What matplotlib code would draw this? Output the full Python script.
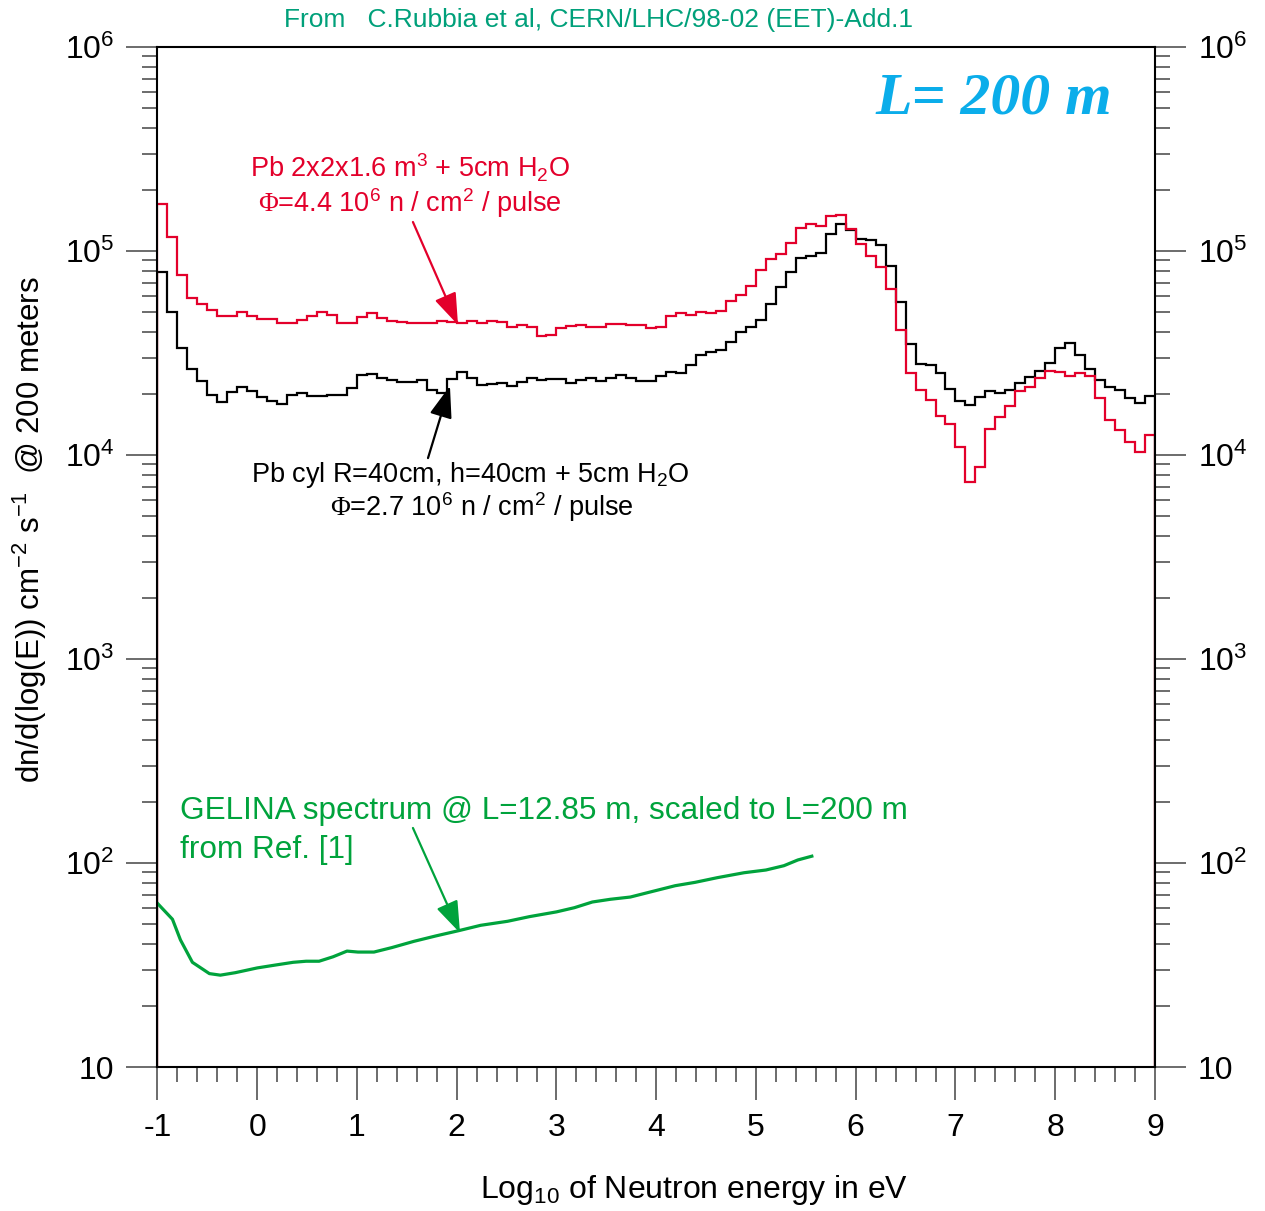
import numpy as np
import matplotlib.pyplot as plt
from matplotlib.ticker import MultipleLocator, FixedLocator, LogLocator, NullFormatter

plt.rcParams['font.family'] = ['Liberation Sans', 'DejaVu Sans']
plt.rcParams['mathtext.fontset'] = 'custom'
plt.rcParams['mathtext.rm'] = 'Liberation Sans'
plt.rcParams['mathtext.it'] = 'Liberation Sans:italic'
plt.rcParams['mathtext.sf'] = 'Liberation Serif'

RED = '#e3002b'
GREEN = '#00a33c'

# histogram bins: log10(E/eV) from -1 to 9, 0.1 decade wide
edges = np.linspace(-1, 9, 101)

# Pb 2x2x1.6 m3 target
lead_block = [170000, 117100, 76300, 58800, 55000, 51400, 48000, 48000, 50200, 48000,
              46400, 46400, 44400, 44400, 45900, 48000, 50200, 48600, 44400, 44400,
              47500, 49700, 46900, 45400, 44900, 44400, 44400, 44400, 45400, 44900,
              44400, 45400, 44400, 45400, 44900, 42200, 43600, 42600, 38300, 38800,
              41900, 43100, 43500, 42600, 42200, 43700, 43900, 43400, 43400, 41800,
              42300, 48000, 49500, 48400, 50200, 49900, 51000, 56900, 60600, 67000,
              80300, 91400, 96700, 109100, 128900, 135200, 132600, 148000, 150200, 128200,
              107900, 94500, 83200, 65100, 41200, 25200, 20800, 18600, 15500, 14200,
              11000, 7350, 8760, 13400, 15400, 17400, 20600, 21600, 23900, 25900,
              25500, 24500, 25200, 24400, 19100, 14800, 13300, 11600, 10300, 12600]

# Pb cylinder R=40cm h=40cm
lead_cyl = [79200, 50100, 33600, 26300, 23100, 19700, 18100, 20300, 21600, 20600,
            19300, 18300, 17700, 19700, 20200, 19500, 19500, 19700, 19700, 21200,
            24700, 25000, 23900, 23400, 22900, 22900, 23200, 20900, 20200, 23500,
            25500, 23800, 22000, 22200, 22500, 21800, 22700, 23800, 23400, 23600,
            23500, 22500, 23300, 23900, 23100, 23900, 24700, 23800, 23100, 23100,
            24300, 25400, 25300, 27700, 31000, 32000, 32600, 35900, 40200, 42400,
            45700, 54800, 66400, 78500, 92400, 94700, 98100, 120900, 135700, 126700,
            114500, 113200, 107000, 84400, 56400, 35000, 27800, 27600, 25300, 21000,
            18400, 17600, 19300, 20600, 20200, 20800, 22500, 24200, 25800, 28200,
            33300, 35300, 30900, 26300, 23300, 21500, 20800, 19000, 17900, 19500]

# GELINA spectrum scaled to 200 m
gelina_x = [-1.0, -0.85, -0.77, -0.65, -0.48, -0.37, -0.22, 0.0, 0.18, 0.36, 0.49, 0.62,
            0.76, 0.90, 1.01, 1.17, 1.35, 1.57, 1.79, 2.02, 2.24, 2.51, 2.73, 3.0,
            3.18, 3.36, 3.54, 3.74, 3.94, 4.19, 4.39, 4.61, 4.88, 5.10, 5.28, 5.42, 5.56]
gelina_y = [63.4, 53, 42, 32.6, 28.7, 28.2, 29, 30.6, 31.6, 32.6, 33, 33,
            34.7, 37, 36.6, 36.6, 38.5, 41.3, 43.9, 46.6, 49.5, 51.8, 54.6, 57.6,
            60.4, 64.4, 66.4, 68.1, 72.1, 77.4, 80.4, 84.7, 89.6, 92.4, 97, 103.5, 108]

ytick_vals = [10, 1e2, 1e3, 1e4, 1e5, 1e6]
ytick_labels = ['10', '$10^{2}$', '$10^{3}$', '$10^{4}$', '$10^{5}$', '$10^{6}$']
xtick_vals = [-1, 0, 1, 2, 3, 4, 5, 6, 7, 8, 9]

fig = plt.figure(figsize=(12.65, 12.11), dpi=100)
ax = fig.add_axes([0.1245, 0.1189, 0.7885, 0.8423])

ax.stairs(lead_cyl, edges, color='black', lw=1.6)
ax.stairs(lead_block, edges, color=RED, lw=1.6)
ax.plot(gelina_x, gelina_y, color=GREEN, lw=2.3)

ax.set_yscale('log')
ax.set_xlim(-1, 9)
ax.set_ylim(10, 1e6)

ax.xaxis.set_major_locator(FixedLocator(xtick_vals))
ax.xaxis.set_minor_locator(MultipleLocator(0.2))
ax.set_xticklabels(['%d' % v for v in xtick_vals])
ax.yaxis.set_major_locator(FixedLocator(ytick_vals))
ax.set_yticklabels(ytick_labels)
ax.yaxis.set_minor_locator(LogLocator(base=10, subs=np.arange(2, 10)))
ax.yaxis.set_minor_formatter(NullFormatter())

ax.tick_params(axis='y', which='both', direction='out', left=True, right=True,
               labelleft=True, labelright=True, labelsize=23, color='#444444', width=1.1)
ax.tick_params(axis='y', which='major', length=22, pad=9)
ax.tick_params(axis='y', which='minor', length=11)
ax.tick_params(axis='x', which='both', direction='out', top=False, labelsize=23,
               color='#444444', width=1.1)
ax.tick_params(axis='x', which='major', length=24, pad=9)
ax.tick_params(axis='x', which='minor', length=11)
for s in ax.spines.values():
    s.set_linewidth(1.5)

# labels and annotations
fig.text(0.549, 0.017, 'Log$_{10}$ of Neutron energy in eV', ha='center', va='center', fontsize=23)
fig.text(0.0237, 0.5623, 'dn/d(log(E)) cm$^{-2}$ s$^{-1}$  @ 200 meters', rotation=90,
         ha='center', va='center', fontsize=22.5)
fig.text(0.473, 0.9835, 'From   C.Rubbia et al, CERN/LHC/98-02 (EET)-Add.1',
         ha='center', va='center', fontsize=19, color='#00a07a')

ax.text(7.386, 5.5e5, 'L= 200 m', ha='center', va='center', fontsize=43, color='#0badea',
        family='Liberation Serif', style='italic', weight='bold')

ax.text(1.531, 2.55e5, 'Pb 2x2x1.6 m$^{3}$ + 5cm H$_{2}$O', ha='center', va='center',
        fontsize=19.5, color=RED)
ax.text(1.531, 1.72e5, r'$\mathsf{\Phi}$=4.4 10$^{6}$ n / cm$^{2}$ / pulse', ha='center',
        va='center', fontsize=19.5, color=RED)

ax.text(2.133, 7980, 'Pb cyl R=40cm, h=40cm + 5cm H$_{2}$O', ha='center', va='center',
        fontsize=19.5, color='black')
ax.text(2.253, 5560, r'$\mathsf{\Phi}$=2.7 10$^{6}$ n / cm$^{2}$ / pulse', ha='center',
        va='center', fontsize=19.5, color='black')

ax.text(-0.774, 180, 'GELINA spectrum @ L=12.85 m, scaled to L=200 m', ha='left',
        va='center', fontsize=22.7, color=GREEN)
ax.text(-0.774, 116, 'from Ref. [1]', ha='left', va='center', fontsize=22.7, color=GREEN)

arrow = dict(arrowstyle='-|>,head_length=1.4,head_width=0.5', lw=1.6, mutation_scale=14,
             shrinkA=0, shrinkB=0)
ax.annotate('', xy=(2.013, 4.34e4), xytext=(1.561, 1.387e5),
            arrowprops=dict(arrow, color=RED))
ax.annotate('', xy=(1.932, 2.18e4), xytext=(1.712, 9660),
            arrowprops=dict(arrow, color='black'))
ax.annotate('', xy=(2.033, 45.4), xytext=(1.561, 148.5),
            arrowprops=dict(arrow, color=GREEN))

fig.savefig('out.png', dpi=100)
